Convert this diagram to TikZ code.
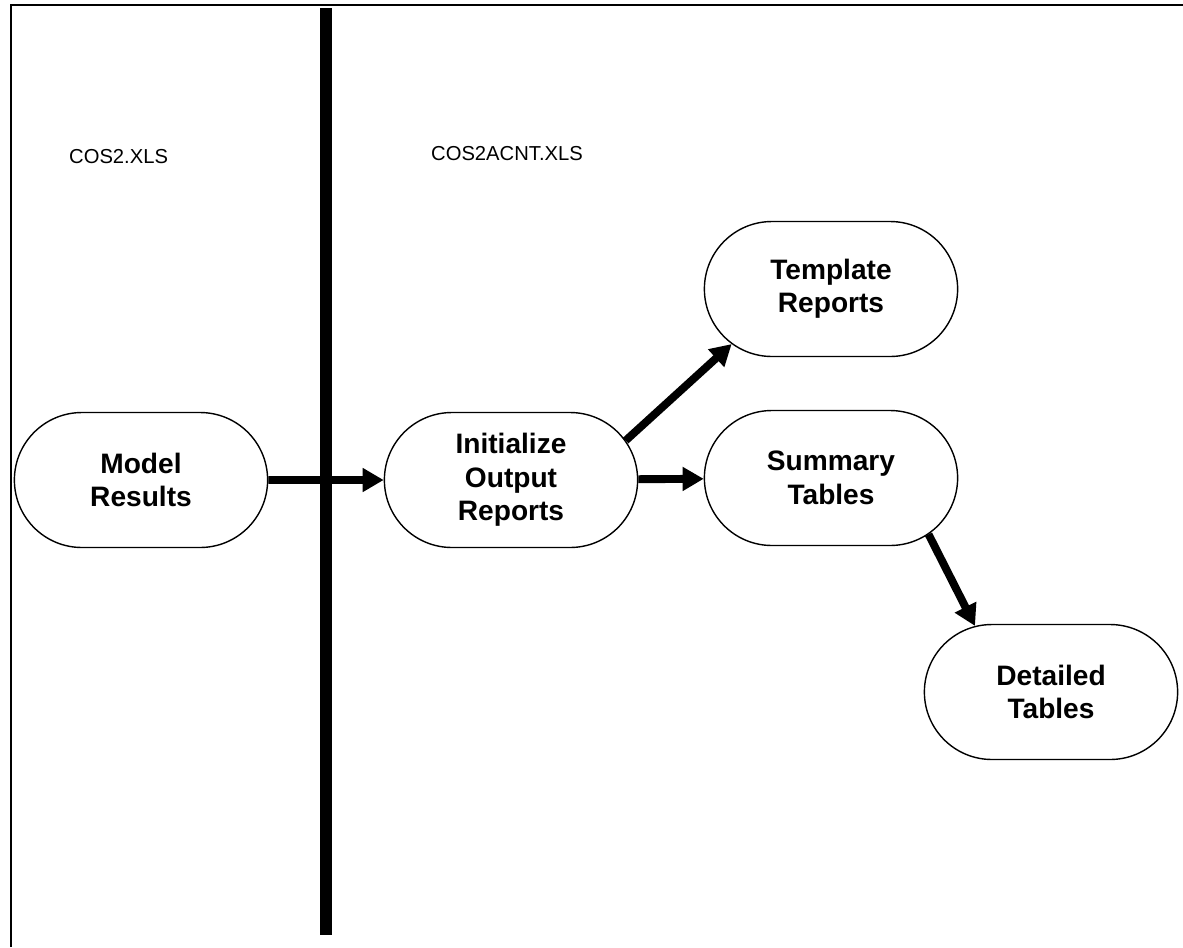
\documentclass[tikz,border=0pt]{standalone}
\usepackage{fontspec}
\setmainfont{Liberation Sans}
\usetikzlibrary{arrows.meta,shapes.misc}

\begin{document}
\begin{tikzpicture}[x=0.02cm, y=-0.02cm,
    proc/.style={draw, rounded rectangle, line width=0.8pt, minimum width=5.3cm, minimum height=2.7cm, align=center, font=\fontsize{16}{19}\selectfont\bfseries},
    arr/.style={-{Triangle[length=12pt, width=13pt]}, line width=4.5pt},
    file/.style={font=\fontsize{11.5}{13}\selectfont, anchor=base west}
]
\useasboundingbox (0,0) rectangle (1183,947);

% page frame and file divider
\draw[line width=1pt] (11,947) -- (11,5) -- (1183,5);
\fill (320,8) rectangle (332,935);

\node[file] (f1) at (63,163) {COS2.XLS};
\node[file] (f2) at (425,160) {COS2ACNT.XLS};

\node[proc] (model) at (141,480) {Model\\Results};
\node[proc] (init) at (511,480) {Initialize\\Output\\Reports};
\node[proc] (tmpl) at (831,289) {Template\\Reports};
\node[proc] (summ) at (831,478) {Summary\\Tables};
\node[proc] (detl) at (1051,692) {Detailed\\Tables};

\draw[arr] (model) -- (init);
\draw[arr] (init) -- (summ);
\draw[arr] (init.19) -- (tmpl.209);
\draw[arr] (summ.330) -- (detl.139);
\end{tikzpicture}
\end{document}
